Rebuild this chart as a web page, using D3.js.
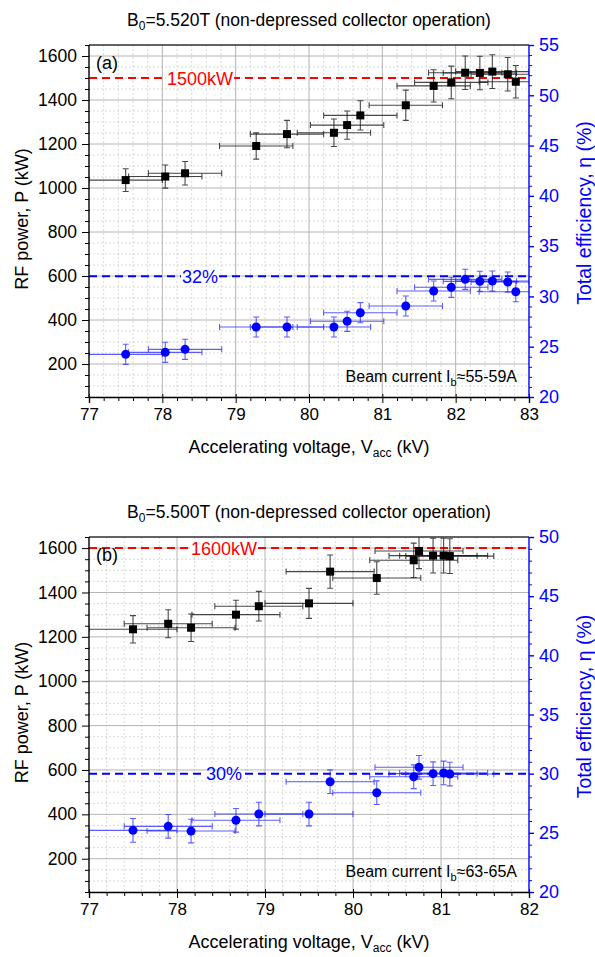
<!DOCTYPE html>
<html><head><meta charset="utf-8">
<script src="https://cdn.jsdelivr.net/npm/d3@7"></script>
<style>
body{margin:0;background:#fff;}
svg{display:block;font-family:"Liberation Sans",Arial,sans-serif;}
</style></head>
<body>
<svg id="c" width="595" height="957"></svg>
<script>
// ---------- DATA ----------
const titlesA = ["B", "0", "=5.520T (non-depressed collector operation)"];
const titlesB = ["B", "0", "=5.500T (non-depressed collector operation)"];
const xTicksA = [77, 78, 79, 80, 81, 82, 83];
const xTicksB = [77, 78, 79, 80, 81, 82];
const powerTicks = [200, 400, 600, 800, 1000, 1200, 1400, 1600];
const effTicksA = [20, 25, 30, 35, 40, 45, 50, 55];
const effTicksB = [20, 25, 30, 35, 40, 45, 50];

const voltA  = [77.50, 78.04, 78.31, 79.28, 79.70, 80.34, 80.52, 80.70, 81.32, 81.70, 81.94, 82.13, 82.33, 82.50, 82.71, 82.82];
const powerA = [1036, 1052, 1067, 1191, 1245, 1251, 1286, 1330, 1376, 1464, 1480, 1524, 1523, 1529, 1517, 1483];
const effA   = [24.24, 24.44, 24.74, 26.96, 26.96, 26.96, 27.53, 28.38, 29.05, 30.54, 30.91, 31.70, 31.50, 31.53, 31.43, 30.47];

const voltB  = [77.50, 77.90, 78.16, 78.67, 78.93, 79.50, 79.74, 80.27, 80.69, 80.75, 80.91, 81.03, 81.10];
const powerB = [1234, 1259, 1241, 1300, 1338, 1351, 1494, 1465, 1545, 1587, 1566, 1566, 1564];
const effB   = [25.21, 25.55, 25.15, 26.06, 26.59, 26.59, 29.32, 28.39, 29.74, 30.54, 30.00, 30.06, 29.97];

const voltErr = 0.5;        // kV
const powerErrFrac = 0.05;  // 5 %
const effErr = 1.0;         // absolute %

const refPowerA = 1500, refEffA = 32;
const refPowerB = 1600, refEffB = 30;
const refLabelsA = ["1500kW", "32%"];
const refLabelsB = ["1600kW", "30%"];
const beamA = ["Beam current I", "b", "≈55-59A"];
const beamB = ["Beam current I", "b", "≈63-65A"];
const panelTags = ["(a)", "(b)"];

// ---------- DRAW ----------
const svg = d3.select("#c");

function panel(o) {
  const L = 89, R = 529;
  const x = d3.scaleLinear().domain(o.xDom).range([L, R]);
  const yP = d3.scaleLinear().domain([50, 1650]).range([o.bottom, o.top]);
  const yE = d3.scaleLinear().domain(o.eDom).range([o.bottom, o.top]);
  const g = svg.append("g");
  const clipId = "clip" + o.id;
  svg.append("defs").append("clipPath").attr("id", clipId)
    .append("rect").attr("x", L).attr("y", o.top).attr("width", R - L).attr("height", o.bottom - o.top);

  // minor grid
  const xMinor = d3.range(o.xDom[0], o.xDom[1] + 0.001, 0.2).filter(v => Math.abs(v - Math.round(v)) > 0.01);
  g.selectAll(".xm").data(xMinor).join("line")
    .attr("x1", d => x(d)).attr("x2", d => x(d)).attr("y1", o.top).attr("y2", o.bottom)
    .attr("stroke", "#cfcfcf").attr("stroke-width", 0.8).attr("stroke-dasharray", "2,2");
  const yMinor = d3.range(50, 1651, 50).filter(v => v % 200 !== 0);
  g.selectAll(".ym").data(yMinor).join("line")
    .attr("x1", L).attr("x2", R).attr("y1", d => yP(d)).attr("y2", d => yP(d))
    .attr("stroke", "#cfcfcf").attr("stroke-width", 0.8).attr("stroke-dasharray", "2,2");
  // major grid
  g.selectAll(".xM").data(o.xTicks.slice(1, -1)).join("line")
    .attr("x1", d => x(d)).attr("x2", d => x(d)).attr("y1", o.top).attr("y2", o.bottom)
    .attr("stroke", "#b4b4b4").attr("stroke-width", 1);
  g.selectAll(".yM").data(powerTicks).join("line")
    .attr("x1", L).attr("x2", R).attr("y1", d => yP(d)).attr("y2", d => yP(d))
    .attr("stroke", "#b4b4b4").attr("stroke-width", 1);

  // reference lines
  const refG = g.append("g");
  refG.append("line").attr("x1", L).attr("x2", R).attr("y1", yP(o.refP)).attr("y2", yP(o.refP))
    .attr("stroke", "#ff0000").attr("stroke-width", 2).attr("stroke-dasharray", "8,5");
  refG.append("line").attr("x1", L).attr("x2", R).attr("y1", yE(o.refE)).attr("y2", yE(o.refE))
    .attr("stroke", "#0000ff").attr("stroke-width", 2).attr("stroke-dasharray", "8,5");
  function refLabel(txt, cx, cy, col) {
    const t = refG.append("text").attr("x", cx).attr("y", cy + 6.5).attr("text-anchor", "middle")
      .attr("font-size", 18).attr("fill", col).text(txt);
    const bb = t.node().getBBox();
    refG.insert("rect", "text").attr("x", bb.x - 1).attr("y", cy - 3).attr("width", bb.width + 2).attr("height", 6).attr("fill", "#fff");
  }
  refLabel(o.refLabels[0], o.labelX, yP(o.refP), "#ff0000");
  refLabel(o.refLabels[1], o.labelX, yE(o.refE), "#0000ff");

  // data
  const dg = g.append("g").attr("clip-path", `url(#${clipId})`);
  const pts = o.volt.map((v, i) => ({ v, p: o.power[i], e: o.eff[i] }));
  function errBars(sel, yScale, val, err, col, op) {
    const cap = 3;
    sel.selectAll(null).data(pts).join("path")
      .attr("d", d => {
        const y = yScale(val(d)), x1 = x(d.v - voltErr), x2 = x(d.v + voltErr);
        return `M${x1},${y}H${x2}M${x1},${y - cap}V${y + cap}M${x2},${y - cap}V${y + cap}`;
      })
      .attr("stroke", col).attr("stroke-opacity", op).attr("fill", "none").attr("stroke-width", 1.1);
    sel.selectAll(null).data(pts).join("path")
      .attr("d", d => {
        const cx = x(d.v), y1 = yScale(val(d) - err(d)), y2 = yScale(val(d) + err(d));
        return `M${cx},${y1}V${y2}M${cx - cap},${y1}H${cx + cap}M${cx - cap},${y2}H${cx + cap}`;
      })
      .attr("stroke", col).attr("stroke-opacity", op).attr("fill", "none").attr("stroke-width", 1.1);
  }
  errBars(dg, yP, d => d.p, d => d.p * powerErrFrac, "#1a1a1a", 0.8);
  errBars(dg, yE, d => d.e, d => effErr, "#2020ff", 0.72);
  dg.selectAll(".sq").data(pts).join("rect")
    .attr("x", d => x(d.v) - 4).attr("y", d => yP(d.p) - 4).attr("width", 8).attr("height", 8).attr("fill", "#000");
  dg.selectAll(".ci").data(pts).join("circle")
    .attr("cx", d => x(d.v)).attr("cy", d => yE(d.e)).attr("r", 4.5).attr("fill", "#0000ff");

  // frame top
  g.append("line").attr("x1", L).attr("x2", R).attr("y1", o.top).attr("y2", o.top).attr("stroke", "#333").attr("stroke-width", 1.3);

  // axes
  const xAxis = g.append("g").attr("transform", `translate(0,${o.bottom})`)
    .call(d3.axisBottom(x).tickValues(o.xTicks).tickFormat(d3.format("d")).tickSize(6).tickPadding(5));
  xAxis.selectAll("text").attr("font-size", 17).attr("fill", "#000");
  xAxis.selectAll(".tick line").attr("y1", -3);
  const xm2 = d3.range(o.xDom[0], o.xDom[1] + 0.001, 0.2).filter(v => Math.abs(v - Math.round(v)) > 0.01);
  g.append("g").attr("transform", `translate(0,${o.bottom})`)
    .call(d3.axisBottom(x).tickValues(xm2).tickFormat("").tickSize(4)).select(".domain").remove();

  const yAxis = g.append("g").attr("transform", `translate(${L},0)`)
    .call(d3.axisLeft(yP).tickValues(powerTicks).tickFormat(d3.format("d")).tickSize(7).tickPadding(5));
  yAxis.select(".domain").attr("d", `M0,${o.top}V${o.bottom}`);
  yAxis.selectAll("text").attr("font-size", 17.5).attr("fill", "#000");
  g.append("g").attr("transform", `translate(${L},0)`)
    .call(d3.axisLeft(yP).tickValues(yMinor).tickFormat("").tickSize(4)).select(".domain").remove();

  const eMinor = d3.range(o.eDom[0], o.eDom[1] + 0.001, 1).filter(v => v % 5 !== 0);
  const rAxis = g.append("g").attr("transform", `translate(${R},0)`)
    .call(d3.axisRight(yE).tickValues(o.effTicks).tickSize(5).tickPadding(5));
  rAxis.select(".domain").attr("d", `M0,${o.top}V${o.bottom}`);
  rAxis.selectAll("line,path").attr("stroke", "#0000ff").attr("stroke-width", 1.4);
  rAxis.selectAll("text").attr("font-size", 18).attr("fill", "#0000ff");
  g.append("g").attr("transform", `translate(${R},0)`)
    .call(d3.axisRight(yE).tickValues(eMinor).tickFormat("").tickSize(3))
    .call(s => s.select(".domain").remove())
    .selectAll("line").attr("stroke", "#0000ff");
  g.selectAll(".domain").attr("stroke-width", 1.4);

  // titles
  const t = g.append("text").attr("x", (L + R) / 2).attr("y", o.top - 19).attr("text-anchor", "middle").attr("font-size", 17.5);
  t.append("tspan").text(o.title[0]);
  t.append("tspan").attr("font-size", 12).attr("dy", 4).text(o.title[1]);
  t.append("tspan").attr("dy", -4).text(o.title[2]);

  const xt = g.append("text").attr("x", (L + R) / 2).attr("y", o.bottom + 56).attr("text-anchor", "middle").attr("font-size", 18);
  xt.append("tspan").text("Accelerating voltage, V");
  xt.append("tspan").attr("font-size", 12).attr("dy", 4).text("acc");
  xt.append("tspan").attr("dy", -4).text(" (kV)");

  const cy = (o.top + o.bottom) / 2;
  g.append("text").attr("transform", `translate(28,${cy - 2}) rotate(-90)`).attr("text-anchor", "middle")
    .attr("font-size", 18).text("RF power, P (kW)");
  g.append("text").attr("transform", `translate(591,${cy - 8}) rotate(-90)`).attr("text-anchor", "middle")
    .attr("font-size", 19.5).attr("fill", "#0000ff").text("Total efficiency, η (%)");

  g.append("text").attr("x", 96).attr("y", o.top + 24).attr("font-size", 18).text(o.tag);

  const bt = g.append("text").attr("x", 517).attr("y", o.bottom - 15).attr("text-anchor", "end").attr("font-size", 16);
  bt.append("tspan").text(o.beam[0]);
  bt.append("tspan").attr("font-size", 11).attr("dy", 4).text(o.beam[1]);
  bt.append("tspan").attr("dy", -4).text(o.beam[2]);
}

panel({ id: "a", top: 45, bottom: 397, xDom: [77, 83], eDom: [20, 55], xTicks: xTicksA, effTicks: effTicksA,
  volt: voltA, power: powerA, eff: effA, refP: refPowerA, refE: refEffA, refLabels: refLabelsA, labelX: 200,
  title: titlesA, tag: panelTags[0], beam: beamA });
panel({ id: "b", top: 537, bottom: 892, xDom: [77, 82], eDom: [20, 50], xTicks: xTicksB, effTicks: effTicksB,
  volt: voltB, power: powerB, eff: effB, refP: refPowerB, refE: refEffB, refLabels: refLabelsB, labelX: 224,
  title: titlesB, tag: panelTags[1], beam: beamB });
</script>
</body></html>
